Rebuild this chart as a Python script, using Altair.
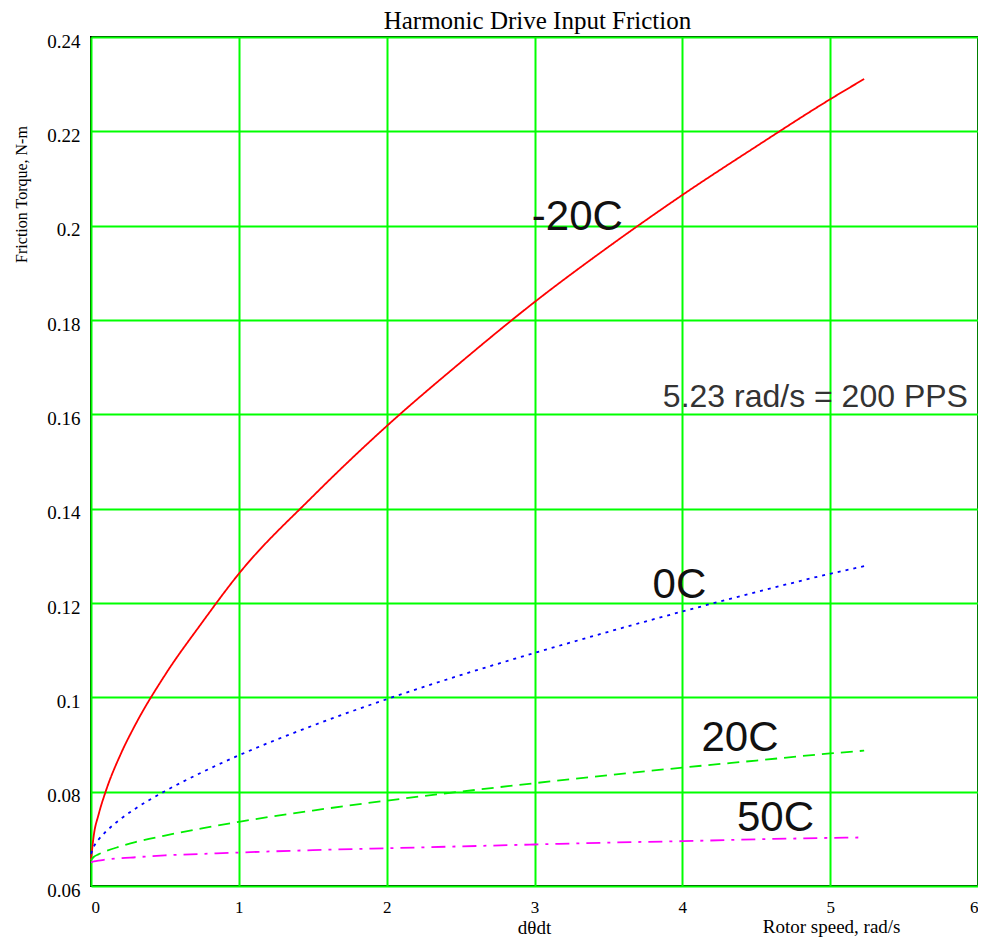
import altair as alt
import pandas as pd

# Rotor speed (rad/s)
speed = [0, 0.02, 0.05, 0.1, 0.2, 0.3, 0.5, 0.75, 1, 1.5, 2, 2.5, 3, 3.5, 4, 4.5, 5, 5.23]

# Friction torque (N-m)
torque_m20 = [0.0655, 0.0710, 0.0750, 0.0801, 0.0879, 0.0942, 0.1047, 0.1158, 0.1262,
              0.1426, 0.1575, 0.1710, 0.1838, 0.1955, 0.2065, 0.2168, 0.2268, 0.2311]
torque_0 = [0.0668, 0.0684, 0.0698, 0.0715, 0.0742, 0.0764, 0.0801, 0.0841, 0.0877,
            0.0940, 0.0996, 0.1047, 0.1094, 0.1139, 0.1182, 0.1223, 0.1262, 0.1278]
torque_20 = [0.0655, 0.0662, 0.0667, 0.0674, 0.0684, 0.0693, 0.0707, 0.0722, 0.0736,
             0.0760, 0.0781, 0.0800, 0.0818, 0.0835, 0.0851, 0.0866, 0.0881, 0.0887]
torque_50 = [0.0650, 0.0652, 0.0654, 0.0656, 0.0659, 0.0661, 0.0665, 0.0668, 0.0671,
             0.0676, 0.0680, 0.0684, 0.0688, 0.0692, 0.0695, 0.0699, 0.0702, 0.0703]

series_names = ["-20C", "0C", "20C", "50C"]
series_colors = ["#ff0000", "#0000ff", "#00ee00", "#ff00ff"]
series_dash = [[1, 0], [3, 5], [12, 7], [14, 7, 3, 7]]

# Curve labels
label_text = ["-20C", "0C", "20C", "50C"]
label_x = [3.29, 3.98, 4.39, 4.63]
label_y = [0.2018, 0.1239, 0.0914, 0.0744]

note_text = ["5.23 rad/s = 200 PPS"]
note_x = [4.90]
note_y = [0.1636]

title_text = ["Harmonic Drive Input Friction"]
x_title2 = ["Rotor speed, rad/s"]

x_ticks = [0, 1, 2, 3, 4, 5, 6]
y_ticks = [0.06, 0.08, 0.10, 0.12, 0.14, 0.16, 0.18, 0.20, 0.22, 0.24]

rows = []
for name, vals in zip(series_names, [torque_m20, torque_0, torque_20, torque_50]):
    for s, t in zip(speed, vals):
        rows.append({"speed": s, "torque": t, "series": name})
df = pd.DataFrame(rows)

labels_df = pd.DataFrame({"text": label_text, "x": label_x, "y": label_y})
note_df = pd.DataFrame({"text": note_text, "x": note_x, "y": note_y})
xlab_df = pd.DataFrame({"text": x_title2, "x": [5.01], "y": [0.06]})
title_df = pd.DataFrame({"text": title_text, "x": [3.02], "y": [0.24]})

SERIF = "Liberation Serif"
SANS = "Liberation Sans"

xscale = alt.Scale(domain=[0, 6], nice=False, zero=False)
yscale = alt.Scale(domain=[0.06, 0.24], nice=False, zero=False)

x_axis = alt.Axis(values=x_ticks, format="~g", title="dθdt", titleFont=SERIF,
                  titleFontSize=19, titleFontWeight="normal", titleX=443, titleY=41,
                  titleAlign="center", titleBaseline="middle", titleColor="black",
                  labelFont=SERIF, labelFontSize=17, labelPadding=13, labelColor="black",
                  ticks=False, domain=False, grid=True, gridColor="#00ff00", gridWidth=2,
                  gridOpacity=1)
y_axis = alt.Axis(values=y_ticks, format="~g", title="Friction Torque, N-m", titleFont=SERIF,
                  titleFontSize=16, titleFontWeight="normal", titleAngle=270,
                  titleX=-70, titleY=157, titleAlign="center", titleBaseline="middle",
                  titleColor="black",
                  labelFont=SERIF, labelFontSize=19, labelPadding=11, labelColor="black",
                  labelOffset=4,
                  ticks=False, domain=False, grid=True, gridColor="#00ff00", gridWidth=2,
                  gridOpacity=1)

lines = alt.Chart(df).mark_line(strokeWidth=1.8, interpolate="monotone").encode(
    x=alt.X("speed:Q", scale=xscale, axis=x_axis),
    y=alt.Y("torque:Q", scale=yscale, axis=y_axis),
    color=alt.Color("series:N", scale=alt.Scale(domain=series_names, range=series_colors), legend=None),
    strokeDash=alt.StrokeDash("series:N", scale=alt.Scale(domain=series_names, range=series_dash), legend=None),
)

labels = alt.Chart(labels_df).mark_text(font=SANS, fontSize=42, color="#111111",
                                        align="center", baseline="middle").encode(
    x=alt.X("x:Q", scale=xscale), y=alt.Y("y:Q", scale=yscale), text="text:N")

note = alt.Chart(note_df).mark_text(font=SANS, fontSize=32, color="#333333",
                                    align="center", baseline="middle").encode(
    x=alt.X("x:Q", scale=xscale), y=alt.Y("y:Q", scale=yscale), text="text:N")

xlab = alt.Chart(xlab_df).mark_text(font=SERIF, fontSize=19, color="black",
                                    align="center", baseline="middle", dy=41).encode(
    x=alt.X("x:Q", scale=xscale), y=alt.Y("y:Q", scale=yscale), text="text:N")

title = alt.Chart(title_df).mark_text(font=SERIF, fontSize=25, color="black",
                                      align="center", baseline="middle", dy=-16).encode(
    x=alt.X("x:Q", scale=xscale), y=alt.Y("y:Q", scale=yscale), text="text:N")

chart = alt.layer(lines, labels, note, xlab, title).properties(
    width=887, height=849,
    autosize=alt.AutoSizeParams(type="none"),
    padding={"left": 83, "top": 29, "right": 0, "bottom": 52},
).configure_view(stroke="black", strokeWidth=2)

chart.save("out.html", embed_options={"renderer": "svg", "actions": False})
